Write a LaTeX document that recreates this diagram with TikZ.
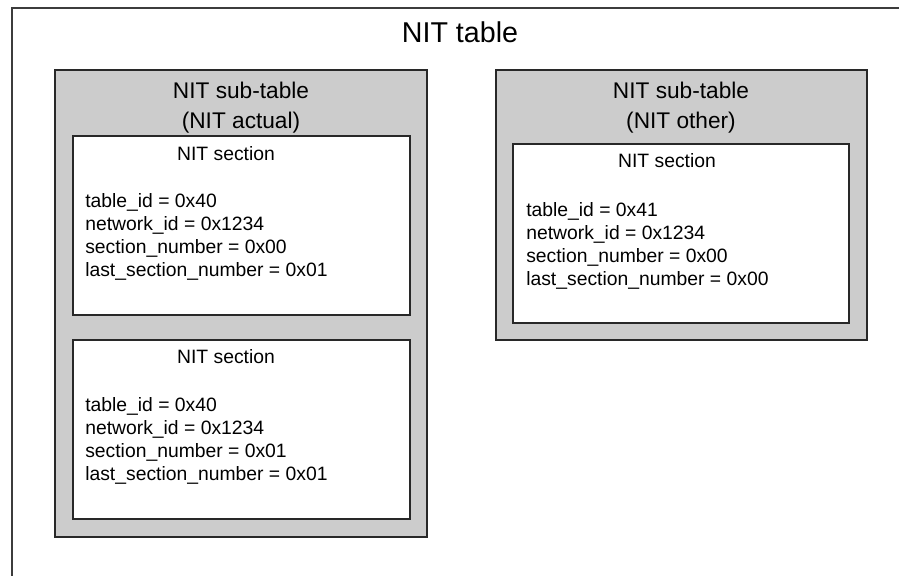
\documentclass[tikz,border=0pt]{standalone}
\usepackage{fontspec}
\setmainfont{Liberation Sans}
\usepackage{tikz}

\begin{document}
\begin{tikzpicture}[x=0.75pt,y=0.75pt,yscale=-1,xscale=1,
  framestyle/.style={draw={rgb, 255:red, 60; green, 60; blue, 60 },line width=1pt},
  subtablebox/.style={draw={rgb, 255:red, 40; green, 40; blue, 40 },fill={rgb, 255:red, 204; green, 204; blue, 204 },line width=1pt},
  sectionbox/.style={draw={rgb, 255:red, 40; green, 40; blue, 40 },fill=white,line width=1pt},
  bigtitle/.style={inner sep=0pt,font=\fontsize{21.5}{26}\selectfont},
  subtitle/.style={inner sep=0pt,align=center,font=\fontsize{17}{22}\selectfont},
  sectitle/.style={inner sep=0pt,font=\fontsize{14.5}{17.25}\selectfont},
  fields/.style={inner sep=0pt,align=left,font=\fontsize{14.5}{17.25}\selectfont}]
\useasboundingbox (0,0) rectangle (899,575);

%Shape: Frame of the table (runs past the right and bottom edges)
\draw [framestyle] (905,8) -- (12,8) -- (12,582) ;
%Shape: Rectangle, sub-table actual
\draw [subtablebox] (55,70) rectangle (427,537) ;
%Shape: Rectangle, section 0
\draw [sectionbox] (73,136) rectangle (410,315) ;
%Shape: Rectangle, section 1
\draw [sectionbox] (73,340) rectangle (410,519) ;
%Shape: Rectangle, sub-table other
\draw [subtablebox] (496,70) rectangle (867,340) ;
%Shape: Rectangle, section other
\draw [sectionbox] (513,144) rectangle (849,323) ;

% Text Node
\draw (460,42) node [anchor=base][bigtitle] (nittable) {NIT table};
% Text Node (base = last line)
\draw (241,128) node [anchor=base][subtitle] (actualtitle) {NIT sub-table\\(NIT actual)};
% Text Node
\draw (681,128) node [anchor=base][subtitle] (othertitle) {NIT sub-table\\(NIT other)};
% Text Node
\draw (226,160) node [anchor=base][sectitle] (secatitle) {NIT section};
% Text Node
\draw (85,276) node [anchor=base west][fields] (secafields) {table\_id = 0x40\\network\_id = 0x1234\\section\_number = 0x00\\last\_section\_number = 0x01};
% Text Node
\draw (226,363) node [anchor=base][sectitle] (secbtitle) {NIT section};
% Text Node
\draw (85,480) node [anchor=base west][fields] (secbfields) {table\_id = 0x40\\network\_id = 0x1234\\section\_number = 0x01\\last\_section\_number = 0x01};
% Text Node
\draw (667,167) node [anchor=base][sectitle] (secctitle) {NIT section};
% Text Node
\draw (526,285) node [anchor=base west][fields] (seccfields) {table\_id = 0x41\\network\_id = 0x1234\\section\_number = 0x00\\last\_section\_number = 0x00};

\end{tikzpicture}
\end{document}
